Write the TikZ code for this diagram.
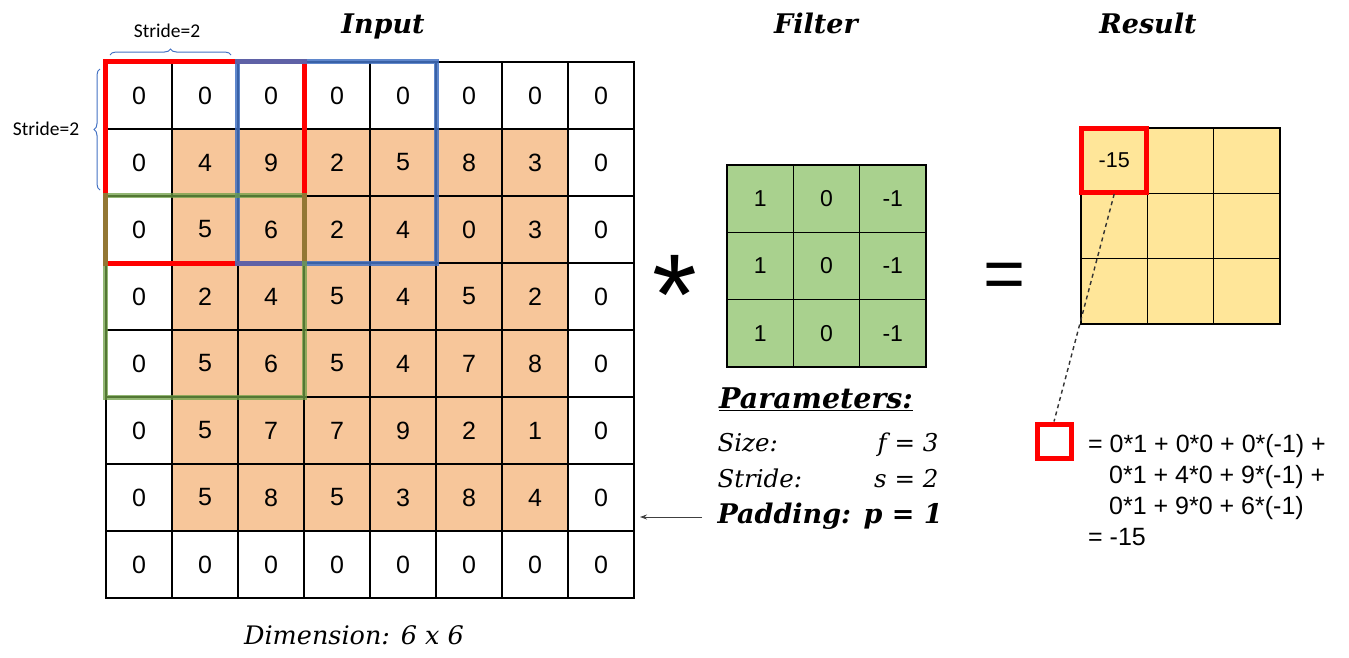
\documentclass[tikz,border=0pt]{standalone}
\usepackage{fontspec}
\setmainfont{DejaVu Serif}
\newfontfamily\arial{Liberation Sans}
\newfontfamily\calib{Carlito}
\usetikzlibrary{decorations.pathreplacing,arrows.meta}
\definecolor{inorange}{HTML}{F7C69A}
\definecolor{filtgreen}{HTML}{A9D18E}
\definecolor{resyellow}{HTML}{FFE699}
\definecolor{bracecol}{HTML}{4472C4}
\definecolor{boxblue}{HTML}{4472C4}
\definecolor{boxgreen}{HTML}{6FA046}
\begin{document}
\begin{tikzpicture}[x=1pt,y=-1pt,
  incell/.style={draw=black, line width=1.3pt, minimum width=66pt, minimum height=67pt, inner sep=0pt, font=\arial\fontsize{25}{28}\selectfont},
  fcell/.style={draw=black, line width=1.3pt, fill=filtgreen, minimum width=66.3pt, minimum height=67.3pt, inner sep=0pt, font=\arial\fontsize{23}{26}\selectfont},
  rcell/.style={draw=black, line width=1.3pt, fill=resyellow, minimum width=66.3pt, minimum height=65.3pt, inner sep=0pt, font=\arial\fontsize{20}{24}\selectfont},
  redbox/.style={draw=red, line width=5pt},
  bluebox/.style={draw=boxblue, line width=4.5pt, draw opacity=0.85},
  greenbox/.style={draw=boxgreen, line width=5pt, draw opacity=0.75},
  title/.style={font=\bfseries\itshape\fontsize{27}{30}\selectfont, anchor=base},
  stridelbl/.style={font=\calib\fontsize{19.5}{22}\selectfont, anchor=base},
  bracedeco/.style={draw=bracecol, line width=1pt, decorate, decoration={brace, amplitude=6pt}},
  param/.style={font=\itshape\fontsize{24.5}{28}\selectfont, anchor=base west},
  formula/.style={font=\arial\fontsize{25}{28}\selectfont, anchor=base west, inner sep=0pt}
]
\useasboundingbox (0,0) rectangle (1349,657);
\fill[white] (0,0) rectangle (1349,657);

% titles
\node[title] (tin) at (383,33) {Input};
\node[title] (tfi) at (816,33) {Filter};
\node[title] (tre) at (1148,33) {Result};

% input grid
\foreach \rowvals [count=\r from 0] in {{0,0,0,0,0,0,0,0},{0,4,9,2,5,8,3,0},{0,5,6,2,4,0,3,0},{0,2,4,5,4,5,2,0},{0,5,6,5,4,7,8,0},{0,5,7,7,9,2,1,0},{0,5,8,5,3,8,4,0},{0,0,0,0,0,0,0,0}}{
  \foreach \v [count=\c from 0] in \rowvals {
    \def\fc{white}
    \ifnum\r>0 \ifnum\r<7 \ifnum\c>0 \ifnum\c<7 \def\fc{inorange}\fi\fi\fi\fi
    \node[incell, fill=\fc] (in-\r-\c) at ({139+66*\c},{95.5+67*\r}) {\v};
  }
}

% sliding windows
\draw[redbox] (in-0-0.north west) rectangle (in-2-2.south east);
\draw[bluebox] (in-0-2.north west) rectangle (in-2-4.south east);
\draw[greenbox] (in-2-0.north west) rectangle (in-4-2.south east);

% stride braces
\coordinate (bt1) at (110,55);
\coordinate (bt2) at (231,55);
\draw[bracedeco] (bt1) -- (bt2);
\node[stridelbl] (st1) at (167,37) {Stride=2};
\coordinate (bl1) at (100,190);
\coordinate (bl2) at (100,69);
\draw[bracedeco] (bl1) -- (bl2);
\node[stridelbl] (st2) at (46,135) {Stride=2};

% dimension
\node[font=\itshape\fontsize{25.5}{28}\selectfont, anchor=base] (dim) at (354,644) {Dimension: 6 x 6};

% operator
\node[font=\arial\fontsize{115}{120}\selectfont, anchor=base, inner sep=0pt] (ast) at (675,334) {*};

% filter grid
\foreach \rowvals [count=\r from 0] in {{1,0,-1},{1,0,-1},{1,0,-1}}{
  \foreach \v [count=\c from 0] in \rowvals {
    \node[fcell] (f-\r-\c) at ({760.2+66.3*\c},{198.7+67.3*\r}) {\v};
  }
}

% parameters
\node[font=\bfseries\itshape\fontsize{28.5}{32}\selectfont, anchor=base west, inner sep=0pt] (ptitle) at (719,408) {\underline{Parameters:}};
\node[param] (psize) at (714,451) {Size:};
\node[param, anchor=base east] (pf) at (942,451) {f = 3};
\node[param] (pstride) at (714,487) {Stride:};
\node[param, anchor=base east] (ps) at (942,487) {s = 2};
\node[param, font=\bfseries\itshape\fontsize{27}{30}\selectfont] (ppad) at (714,523) {Padding: p = 1};
\coordinate (parr) at (640,517);
\draw[-{Stealth[length=7pt,width=5pt]}, line width=0.9pt, draw=black!75] (ppad.west |- parr) ++(-12,0) -- (parr);

% equals
\node[font=\arial\fontsize{72}{76}\selectfont, anchor=base, inner sep=0pt] (eq) at (1005,298) {=};

% result grid
\foreach \r in {0,1,2}{
  \foreach \c in {0,1,2}{
    \node[rcell] (r-\r-\c) at ({1114.2+66.3*\c},{160.7+65.3*\r}) {};
  }
}
\node[font=\arial\fontsize{21.5}{24}\selectfont] (rv) at (r-0-0) {-15};
\draw[redbox] ([shift={(1.5,1.5)}]r-0-0.north west) rectangle ([shift={(-1.5,-1.5)}]r-0-0.south east);

% zoom square and formula
\node[draw=red, line width=5pt, minimum width=34pt, minimum height=34pt, inner sep=0pt] (sq) at (1054,441) {};
\draw[dashed, line width=1.4pt, draw=black!80, dash pattern=on 4pt off 3.5pt] (r-0-0.south) -- (sq.north);
\node[formula] (fl1) at (1088,452) {= 0*1 + 0*0 + 0*(-1) +};
\node[formula] (fl2) at (1109,483) {0*1 + 4*0 + 9*(-1) +};
\node[formula] (fl3) at (1109,514) {0*1 + 9*0 + 6*(-1)};
\node[formula] (fl4) at (1088,545) {= -15};
\end{tikzpicture}
\end{document}
